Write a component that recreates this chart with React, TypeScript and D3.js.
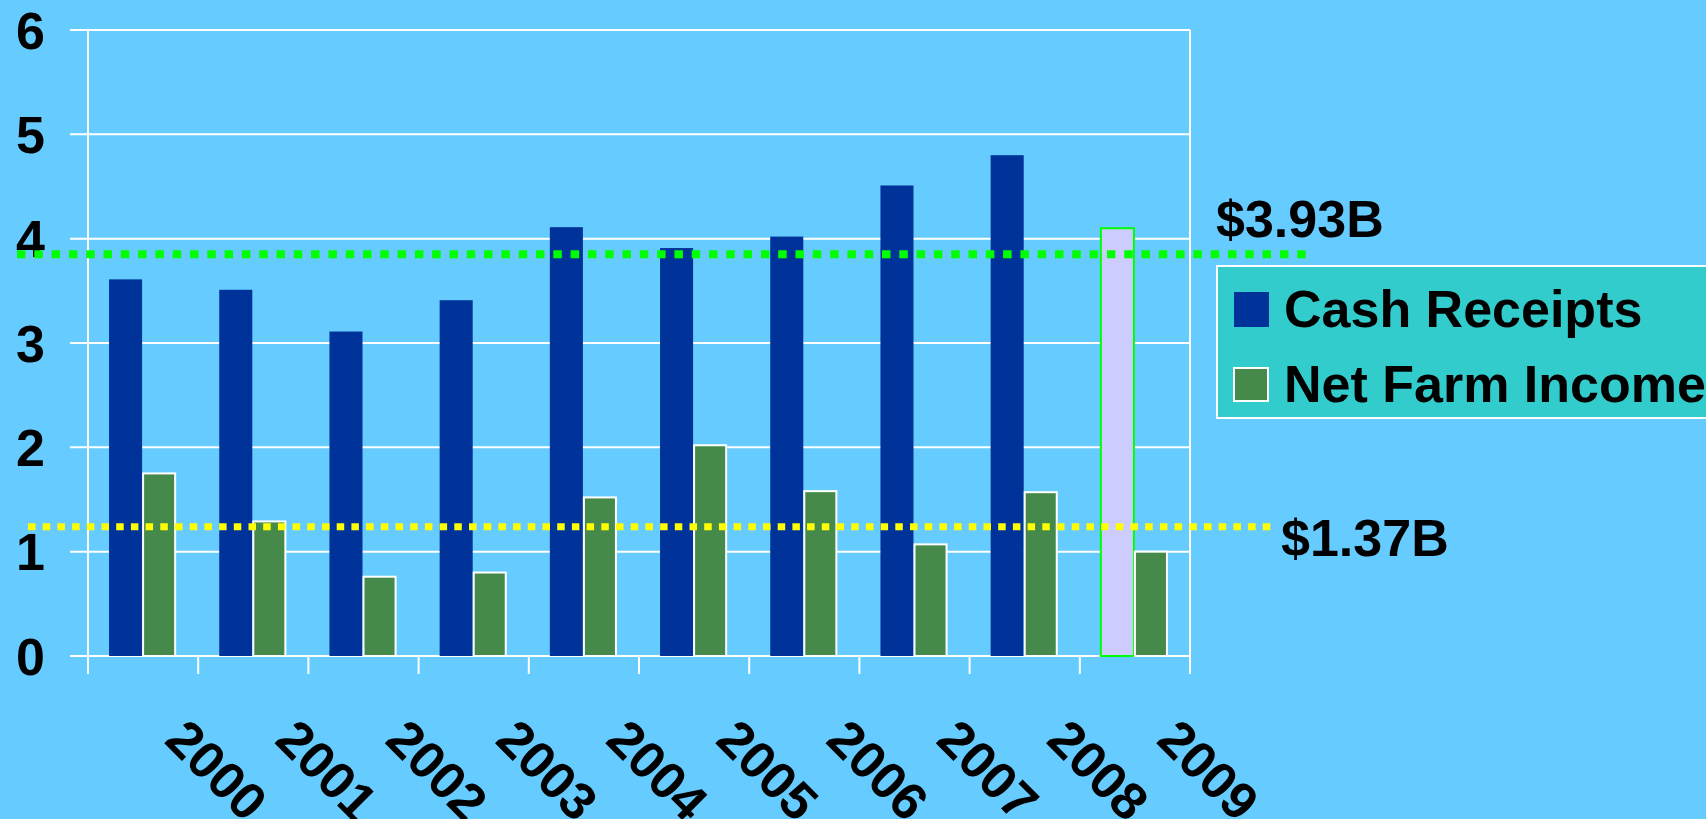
import React from "react";
import * as d3 from "d3";

const years = ["2000", "2001", "2002", "2003", "2004", "2005", "2006", "2007", "2008", "2009"];
const cashReceipts = [3.61, 3.51, 3.11, 3.41, 4.11, 3.91, 4.02, 4.51, 4.8, 4.1];
const netFarmIncome = [1.75, 1.29, 0.76, 0.8, 1.52, 2.02, 1.58, 1.07, 1.57, 1.0];
const yTicks = [0, 1, 2, 3, 4, 5, 6];
const refLines = [
  { value: 3.85, label: "$3.93B", color: "#00FF00" },
  { value: 1.24, label: "$1.37B", color: "#FFFF00" },
];
const legendItems = ["Cash Receipts", "Net Farm Income"];

const W = 1706;
const H = 819;
const FONT = "'Liberation Sans', Arial, Helvetica, sans-serif";
const FS = 52;
const BG = "#66CCFF";
const BLUE = "#003399";
const GREEN = "#468A4B";
const LAV = "#CCCCFF";

export default function App() {
  const left = 88, right = 1190, top = 30, bottom = 656;
  const x = d3.scaleBand<string>().domain(years).range([left, right]).padding(0);
  const y = d3.scaleLinear().domain([0, 6]).range([bottom, top]);
  const step = x.bandwidth();
  const barW = step * 0.3;

  const boundaries = d3.range(years.length + 1).map((i) => left + i * step);

  return (
    <svg
      width={W}
      height={H}
      style={{ position: "absolute", left: 0, top: 0, background: BG, display: "block" }}
    >
      <rect x={0} y={0} width={W} height={H} fill={BG} />
      {/* gridlines */}
      {yTicks.map((t) => (
        <line key={"g" + t} x1={70} x2={right} y1={y(t)} y2={y(t)} stroke="#fff" strokeWidth={2} />
      ))}
      {/* axis & border verticals */}
      <line x1={left} x2={left} y1={top} y2={674} stroke="#fff" strokeWidth={2} />
      <line x1={right} x2={right} y1={top} y2={674} stroke="#fff" strokeWidth={2} />
      {boundaries.map((bx, i) => (
        <line key={"t" + i} x1={bx} x2={bx} y1={bottom} y2={674} stroke="#fff" strokeWidth={2} />
      ))}
      {/* bars */}
      {years.map((yr, i) => {
        const c = (x(yr) as number) + step / 2 - 1;
        const last = i === years.length - 1;
        return (
          <g key={yr}>
            <rect
              x={c - barW}
              y={y(cashReceipts[i])}
              width={barW}
              height={bottom - y(cashReceipts[i])}
              fill={last ? LAV : BLUE}
              stroke={last ? "#00FF00" : "none"}
              strokeWidth={last ? 2 : 0}
            />
            <rect
              x={c + 1}
              y={y(netFarmIncome[i])}
              width={barW - 1}
              height={bottom - y(netFarmIncome[i])}
              fill={GREEN}
              stroke="#fff"
              strokeWidth={2}
            />
          </g>
        );
      })}
      {/* y labels */}
      {yTicks.map((t) => (
        <text
          key={"yl" + t}
          x={45}
          y={y(t) + 18.5}
          textAnchor="end"
          fontFamily={FONT}
          fontWeight="bold"
          fontSize={FS}
          fill="#000"
        >
          {t}
        </text>
      ))}
      {/* x labels */}
      {years.map((yr) => {
        const px = (x(yr) as number) + step / 2 + 20;
        const py = 742;
        return (
          <text
            key={"xl" + yr}
            transform={`translate(${px},${py}) rotate(45)`}
            fontFamily={FONT}
            fontWeight="bold"
            fontSize={FS}
            fill="#000"
          >
            {yr}
          </text>
        );
      })}
      {/* reference lines */}
      <line
        x1={17}
        x2={1308}
        y1={y(refLines[0].value)}
        y2={y(refLines[0].value)}
        stroke={refLines[0].color}
        strokeWidth={8}
        strokeDasharray="8.5 8.8"
      />
      <line
        x1={28}
        x2={1275}
        y1={y(refLines[1].value)}
        y2={y(refLines[1].value)}
        stroke={refLines[1].color}
        strokeWidth={7}
        strokeDasharray="7.5 7.2"
      />
      <text x={1216} y={237} fontFamily={FONT} fontWeight="bold" fontSize={FS} fill="#000">
        {refLines[0].label}
      </text>
      <text x={1281} y={556} fontFamily={FONT} fontWeight="bold" fontSize={FS} fill="#000">
        {refLines[1].label}
      </text>
      {/* legend */}
      <rect x={1217} y={266} width={W - 1217 + 10} height={152} fill="#33CCCC" stroke="#fff" strokeWidth={2} />
      <rect x={1234} y={292} width={35} height={35} fill={BLUE} />
      <rect x={1234} y={368} width={34} height={33} fill={GREEN} stroke="#fff" strokeWidth={2} />
      <text x={1284} y={327} fontFamily={FONT} fontWeight="bold" fontSize={FS} fill="#000">
        {legendItems[0]}
      </text>
      <text x={1284} y={402} fontFamily={FONT} fontWeight="bold" fontSize={FS} fill="#000">
        {legendItems[1]}
      </text>
    </svg>
  );
}
